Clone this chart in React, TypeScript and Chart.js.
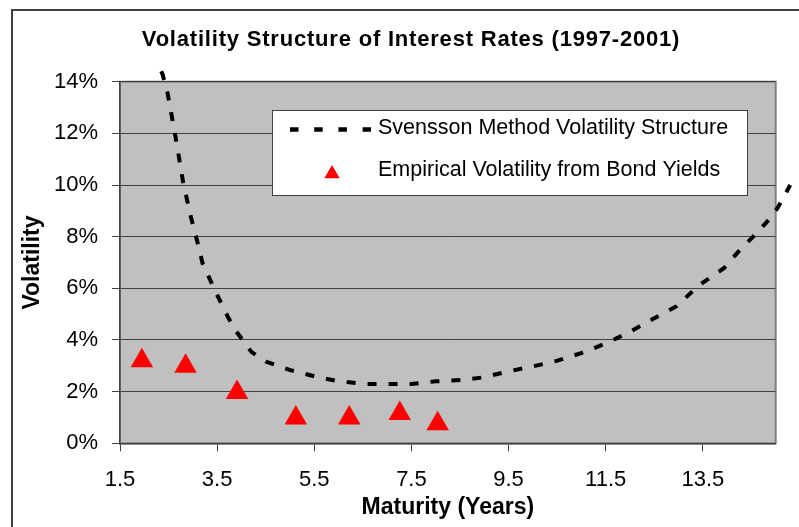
import React, { useEffect, useRef } from 'react';
import { Chart, registerables } from 'chart.js';

Chart.register(...registerables);

const TITLE = 'Volatility Structure of Interest Rates (1997-2001)';
const X_TITLE = 'Maturity (Years)';
const Y_TITLE = 'Volatility';
const LINE_LABEL = 'Svensson Method Volatility Structure';
const POINT_LABEL = 'Empirical Volatility from Bond Yields';

// Svensson fitted curve (maturity in years, volatility in %)
const svenssonMaturity = [
  2.35, 2.38, 2.48, 2.65, 2.8, 2.96, 3.1, 3.2, 3.38, 3.55, 3.72, 3.87, 4.21, 4.52, 4.99, 5.55,
  5.98, 6.5, 6.9, 7.5, 8.0, 8.54, 8.97, 9.46, 9.98, 10.49, 11.01, 11.52, 11.95, 12.47, 12.96,
  13.43, 13.94, 14.26, 14.53, 14.8, 15.04, 15.3,
];
const svenssonVol = [
  14.4, 14.26, 13.55, 11.8, 10.1, 8.76, 7.75, 6.97, 6.23, 5.55, 4.9, 4.39, 3.53, 3.15, 2.84, 2.57,
  2.41, 2.3, 2.3, 2.3, 2.4, 2.45, 2.55, 2.77, 2.97, 3.19, 3.5, 3.88, 4.27, 4.81, 5.31,
  6.13, 6.79, 7.48, 7.99, 8.53, 9.11, 10.0,
];

// Empirical volatility points
const empiricalMaturity = [1.95, 2.85, 3.91, 5.12, 6.22, 7.26, 8.04];
const empiricalVol = [3.2, 2.98, 1.97, 0.98, 0.98, 1.15, 0.76];

const X_MIN = 1.5;
const X_MAX = 15;
const Y_MIN = 0;
const Y_MAX = 14;
const xTickValues = [1.5, 3.5, 5.5, 7.5, 9.5, 11.5, 13.5];
const xTickLabels = ['1.5', '3.5', '5.5', '7.5', '9.5', '11.5', '13.5'];
const yTickValues = [0, 2, 4, 6, 8, 10, 12, 14];
const yTickLabels = ['0%', '2%', '4%', '6%', '8%', '10%', '12%', '14%'];

const FONT = '"Liberation Sans", Arial, sans-serif';

const decorPlugin = {
  id: 'decor',
  beforeDraw(chart: any) {
    const { ctx, chartArea: a, width, height } = chart;
    ctx.save();
    ctx.fillStyle = '#ffffff';
    ctx.fillRect(0, 0, width, height);
    // outer chart border (top & left visible)
    ctx.strokeStyle = '#404040';
    ctx.lineWidth = 2;
    ctx.beginPath();
    ctx.moveTo(width, 10);
    ctx.lineTo(12, 10);
    ctx.lineTo(12, height);
    ctx.stroke();
    // plot area
    ctx.fillStyle = '#c0c0c0';
    ctx.fillRect(a.left, a.top, a.right - a.left, a.bottom - a.top);
    ctx.strokeStyle = '#808080';
    ctx.lineWidth = 2;
    ctx.strokeRect(a.left, a.top, a.right - a.left, a.bottom - a.top);
    ctx.restore();
  },
  afterDraw(chart: any) {
    const { ctx } = chart;
    ctx.save();
    // title
    ctx.fillStyle = '#000';
    ctx.font = `bold 22px ${FONT}`;
    (ctx as any).letterSpacing = '0.8px';
    ctx.textAlign = 'center';
    ctx.textBaseline = 'middle';
    ctx.fillText(TITLE, 411, 39.5);
    (ctx as any).letterSpacing = '0px';

    // legend box
    const bx = 272.5, by = 110.5, bw = 475, bh = 85;
    ctx.fillStyle = '#ffffff';
    ctx.fillRect(bx, by, bw, bh);
    ctx.strokeStyle = '#404040';
    ctx.lineWidth = 1;
    ctx.strokeRect(bx, by, bw, bh);

    // line sample
    ctx.strokeStyle = '#000';
    ctx.lineWidth = 4.5;
    ctx.setLineDash([8.5, 15.7]);
    ctx.beginPath();
    ctx.moveTo(290, 129.5);
    ctx.lineTo(371, 129.5);
    ctx.stroke();
    ctx.setLineDash([]);

    // triangle sample
    ctx.fillStyle = '#ff0000';
    ctx.beginPath();
    ctx.moveTo(332, 165);
    ctx.lineTo(339.7, 178.3);
    ctx.lineTo(324.3, 178.3);
    ctx.closePath();
    ctx.fill();

    ctx.fillStyle = '#000';
    ctx.font = `21.5px ${FONT}`;
    ctx.textAlign = 'left';
    ctx.textBaseline = 'middle';
    ctx.fillText(LINE_LABEL, 378, 128.5);
    ctx.fillText(POINT_LABEL, 378, 170);
    ctx.restore();
  },
};

export default function App() {
  const ref = useRef<HTMLCanvasElement | null>(null);

  useEffect(() => {
    if (!ref.current) return;
    const chart = new Chart(ref.current, {
      type: 'scatter',
      data: {
        datasets: [
          {
            label: LINE_LABEL,
            data: svenssonMaturity.map((x, i) => ({ x, y: svenssonVol[i] })),
            showLine: true,
            borderColor: '#000000',
            backgroundColor: '#000000',
            borderWidth: 4,
            borderDash: [9, 12],
            borderCapStyle: 'butt',
            pointRadius: 0,
            pointHoverRadius: 0,
            tension: 0,
            fill: false,
            clip: false,
          } as any,
          {
            label: POINT_LABEL,
            data: empiricalMaturity.map((x, i) => ({ x, y: empiricalVol[i] })),
            showLine: false,
            pointStyle: 'triangle',
            pointRadius: 13,
            pointHoverRadius: 13,
            backgroundColor: '#ff0000',
            borderColor: '#ff0000',
            borderWidth: 0,
            clip: false,
          } as any,
        ],
      },
      options: {
        animation: false,
        responsive: false,
        devicePixelRatio: 1,
        events: [],
        layout: { padding: { top: 81.7, right: 23.3, bottom: 0, left: 0 } },
        plugins: {
          legend: { display: false },
          tooltip: { enabled: false },
          title: { display: false },
        },
        scales: {
          x: {
            type: 'linear',
            afterBuildTicks: (s: any) => {
              s.ticks = xTickValues.map((v) => ({ value: v }));
              s.min = X_MIN;
              s.max = X_MAX;
            },
            afterFit: (s: any) => {
              s.height = 83.7;
            },
            grid: {
              drawOnChartArea: false,
              drawTicks: true,
              tickLength: 8,
              tickColor: '#404040',
              lineWidth: 1,
            },
            border: { display: true, color: '#404040', width: 1.5 },
            ticks: {
              color: '#000',
              font: { family: FONT, size: 22 },
              padding: 15,
              maxRotation: 0,
              autoSkip: false,
              callback: (_v: any, i: number) => xTickLabels[i],
            },
            title: {
              display: true,
              text: X_TITLE,
              color: '#000',
              font: { family: FONT, size: 23, weight: 'bold' },
              padding: { top: 0, bottom: 6 },
            },
          },
          y: {
            type: 'linear',
            afterBuildTicks: (s: any) => {
              s.ticks = yTickValues.map((v) => ({ value: v }));
              s.min = Y_MIN;
              s.max = Y_MAX;
            },
            afterFit: (s: any) => {
              s.width = 120;
            },
            grid: {
              color: '#404040',
              lineWidth: 1,
              drawTicks: true,
              tickLength: 8,
              tickColor: '#404040',
            },
            border: { display: true, color: '#404040', width: 1.5 },
            ticks: {
              color: '#000',
              font: { family: FONT, size: 22 },
              padding: 14,
              callback: (_v: any, i: number) => yTickLabels[i],
            },
            title: {
              display: true,
              text: Y_TITLE,
              color: '#000',
              font: { family: FONT, size: 23, weight: 'bold' },
              padding: { top: 19, bottom: 0 },
            },
          },
        },
      } as any,
      plugins: [decorPlugin],
    });
    return () => chart.destroy();
  }, []);

  return (
    <div style={{ position: 'absolute', left: 0, top: 0, width: 799, height: 527 }}>
      <canvas ref={ref} width={799} height={527} style={{ display: 'block', width: 799, height: 527 }} />
    </div>
  );
}
